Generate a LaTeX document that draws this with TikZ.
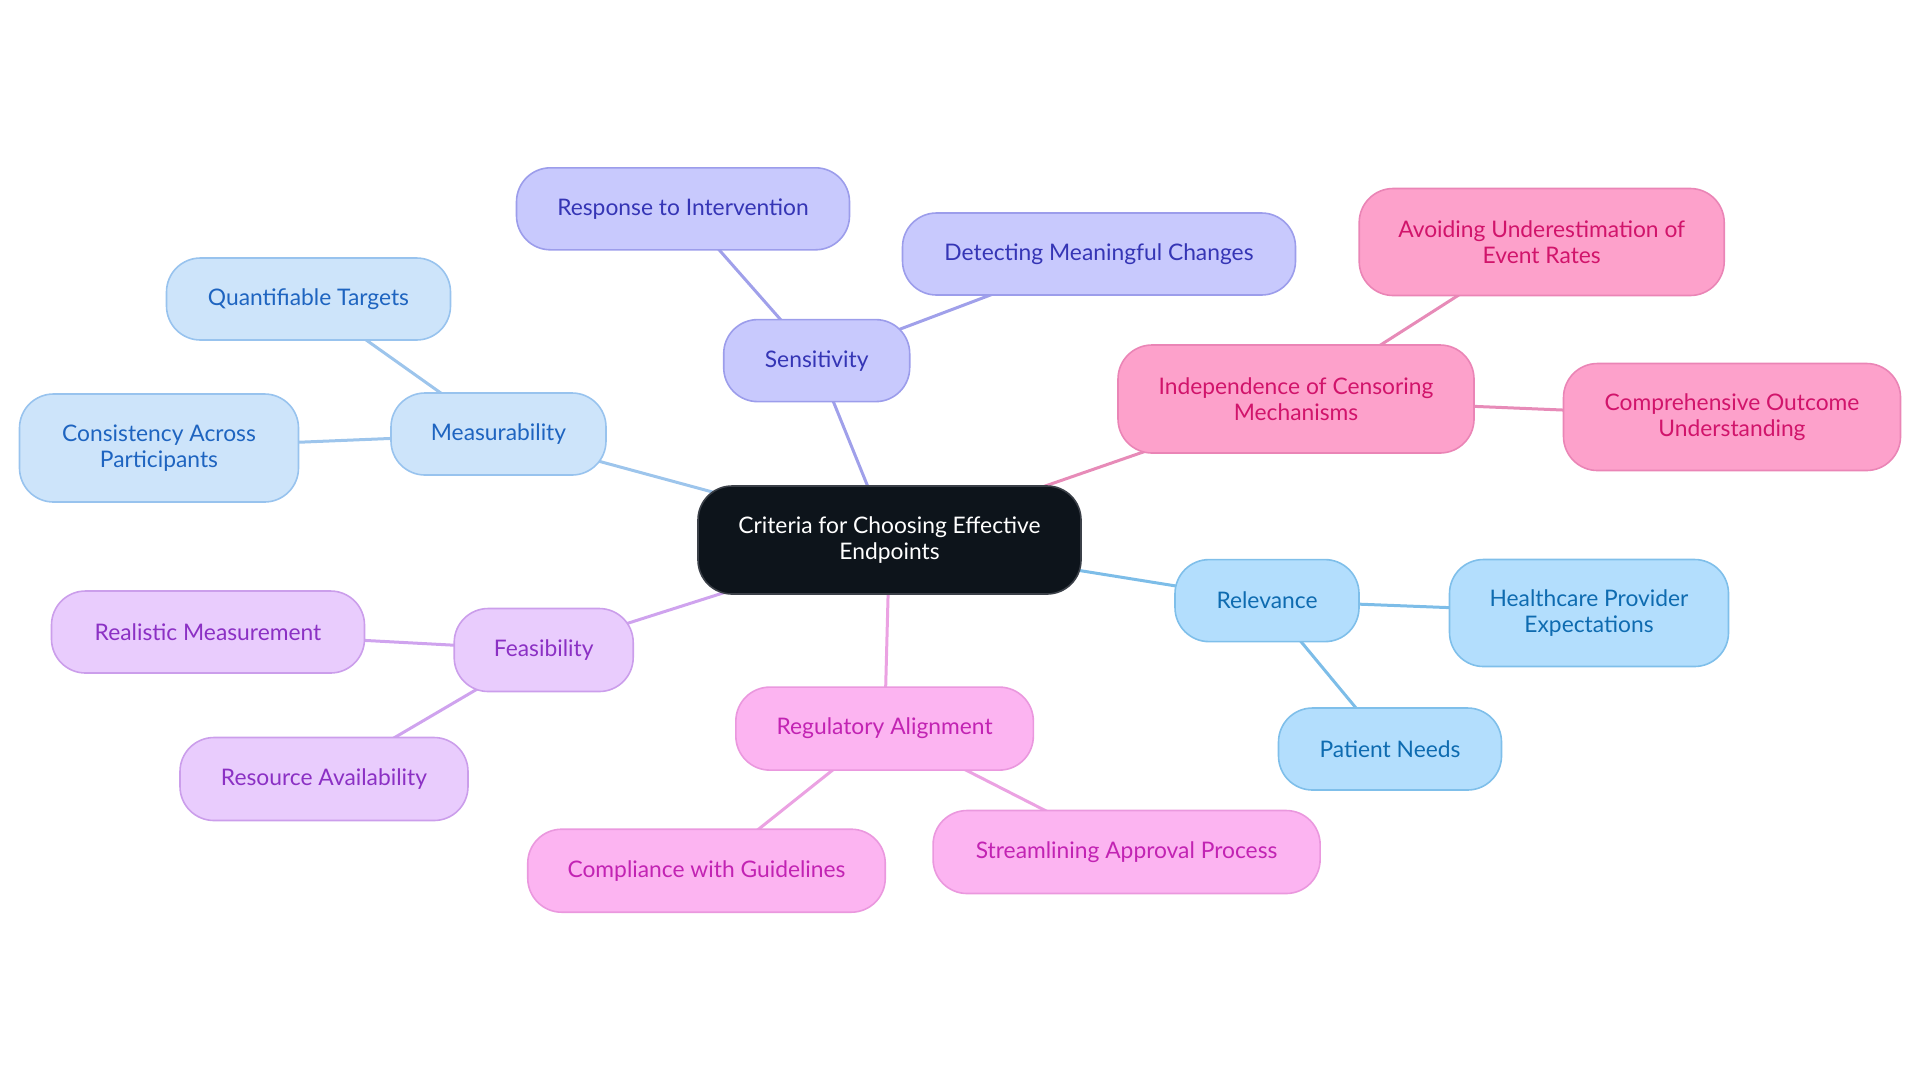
\documentclass[tikz,border=0pt]{standalone}
\usepackage{fontspec}
\setmainfont{Lato}
\usetikzlibrary{backgrounds}
\definecolor{mfill}{HTML}{CDE4FA}\definecolor{mdraw}{HTML}{98C3EE}\definecolor{mtext}{HTML}{1E64C0}\definecolor{mline}{HTML}{9DC5EC}
\definecolor{sfill}{HTML}{C8C9FD}\definecolor{sdraw}{HTML}{9C9DEB}\definecolor{stext}{HTML}{3535B5}\definecolor{sline}{HTML}{A0A0EA}
\definecolor{ifill}{HTML}{FDA1CB}\definecolor{idraw}{HTML}{EA85B6}\definecolor{itext}{HTML}{D1146B}\definecolor{iline}{HTML}{E78BB8}
\definecolor{rfill}{HTML}{B3DEFD}\definecolor{rdraw}{HTML}{7FBFEA}\definecolor{rtext}{HTML}{0E6BB0}\definecolor{rline}{HTML}{7DBDE8}
\definecolor{ffill}{HTML}{E9CCFD}\definecolor{fdraw}{HTML}{CB9EEB}\definecolor{ftext}{HTML}{8B30C4}\definecolor{fline}{HTML}{CFA3EE}
\definecolor{gfill}{HTML}{FCB4F1}\definecolor{gdraw}{HTML}{EA98DE}\definecolor{gtext}{HTML}{C223B3}\definecolor{gline}{HTML}{EBA2E2}
\definecolor{cfill}{HTML}{0D141B}\definecolor{cdraw}{HTML}{3B4048}
\begin{document}
\begin{tikzpicture}[x=0.5pt,y=-0.5pt,
  box/.style={rectangle, rounded corners=17pt, line width=0.8pt, align=center, inner sep=0pt,
    font=\fontsize{11.4}{13}\selectfont},
  mbox/.style={box, fill=mfill, draw=mdraw, text=mtext},
  sbox/.style={box, fill=sfill, draw=sdraw, text=stext},
  ibox/.style={box, fill=ifill, draw=idraw, text=itext},
  rbox/.style={box, fill=rfill, draw=rdraw, text=rtext},
  fbox/.style={box, fill=ffill, draw=fdraw, text=ftext},
  gbox/.style={box, fill=gfill, draw=gdraw, text=gtext},
  cbox/.style={box, fill=cfill, draw=cdraw, text=white},
  sz/.style n args={2}{minimum width=#1*0.5pt, minimum height=#2*0.5pt},
  edge/.style={line width=1.5pt}
]
\useasboundingbox (0,0) rectangle (1920,1083);
\node[cbox, sz={383}{108}] (c) at (889.5,540) {Criteria for Choosing Effective\\Endpoints};

\node[mbox, sz={215}{82}] (m) at (498.5,434) {Measurability};
\node[mbox, sz={284}{82}] (m1) at (308.5,299) {Quantifiable Targets};
\node[mbox, sz={279}{108}] (m2) at (159,448) {Consistency Across\\Participants};

\node[sbox, sz={186}{82}] (s) at (816.7,360.6) {Sensitivity};
\node[sbox, sz={333}{82}] (s1) at (683,208.8) {Response to Intervention};
\node[sbox, sz={393}{82}] (s2) at (1099,254) {Detecting Meaningful Changes};

\node[ibox, sz={356}{108}] (i) at (1296,399) {Independence of Censoring\\Mechanisms};
\node[ibox, sz={365}{107}] (i1) at (1541.7,242) {Avoiding Underestimation of\\Event Rates};
\node[ibox, sz={337}{107}] (i2) at (1732,417) {Comprehensive Outcome\\Understanding};

\node[rbox, sz={184}{82}] (r) at (1267,600.6) {Relevance};
\node[rbox, sz={279}{107}] (r1) at (1589,613) {Healthcare Provider\\Expectations};
\node[rbox, sz={223}{82}] (r2) at (1390,749) {Patient Needs};

\node[fbox, sz={179}{83}] (f) at (543.7,650) {Feasibility};
\node[fbox, sz={313}{82}] (f1) at (208,632) {Realistic Measurement};
\node[fbox, sz={288}{83}] (f2) at (324,779) {Resource Availability};

\node[gbox, sz={297.5}{83}] (g) at (884.6,728.6) {Regulatory Alignment};
\node[gbox, sz={357.5}{83}] (g1) at (706.5,870.7) {Compliance with Guidelines};
\node[gbox, sz={387}{83}] (g2) at (1126.6,852) {Streamlining Approval Process};

\begin{scope}[on background layer]
\draw[edge, mline] (c.center) -- (m.center) (m.center) -- (m1.center) (m.center) -- (m2.center);
\draw[edge, sline] (c.center) -- (s.center) (s.center) -- (s1.center) (s.center) -- (s2.center);
\draw[edge, iline] (c.center) -- (i.center) (i.center) -- (i1.center) (i.center) -- (i2.center);
\draw[edge, rline] (c.center) -- (r.center) (r.center) -- (r1.center) (r.center) -- (r2.center);
\draw[edge, fline] (c.center) -- (f.center) (f.center) -- (f1.center) (f.center) -- (f2.center);
\draw[edge, gline] (c.center) -- (g.center) (g.center) -- (g1.center) (g.center) -- (g2.center);
\end{scope}
\end{tikzpicture}
\end{document}
